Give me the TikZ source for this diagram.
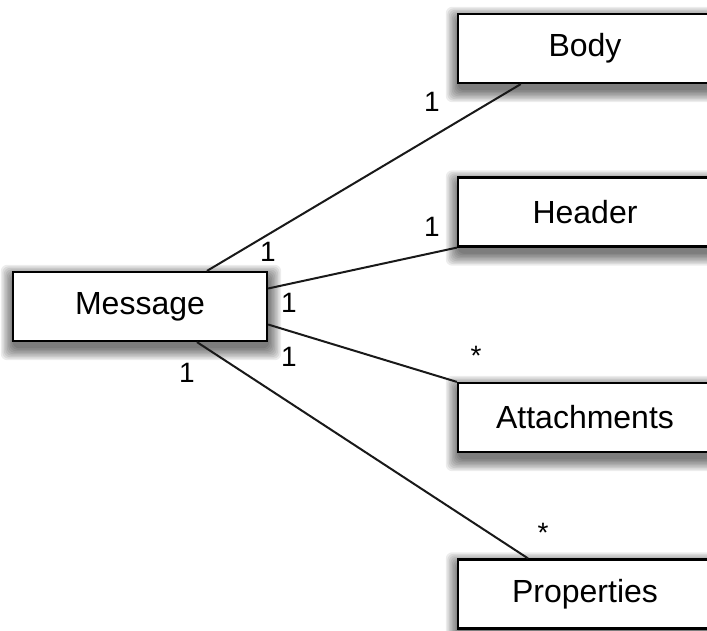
\documentclass[tikz,border=0pt]{standalone}
\usepackage{fontspec}
\setmainfont{Liberation Sans}
\usetikzlibrary{calc}
\pgfdeclarelayer{background}
\pgfsetlayers{background,main}
\begin{document}
\begin{tikzpicture}[x=0.5pt,y=-0.5pt,
  cls/.style={draw=black, line width=1.1pt, fill=white, minimum width=127pt, minimum height=34.5pt,
    inner sep=0pt, font=\fontsize{16}{18}\selectfont},
  shadowlayer/.style={fill=black, fill opacity=0.075, rounded corners=3pt},
  assoc/.style={line width=1pt, draw=black!90},
  mult/.style={font=\fontsize{14}{16}\selectfont, inner sep=0pt}]
\useasboundingbox (0,0) rectangle (707,631);
\clip (0,0) rectangle (707,631);
\node[cls] (msg) at (140,306.5) {Message};
\node[cls] (body) at (585,48.5) {Body};
\node[cls] (header) at (585,212) {Header};
\node[cls] (att) at (585,417.5) {Attachments};
\node[cls] (props) at (585,594) {Properties};
\begin{pgfonlayer}{background}
\fill[white] (0,0) rectangle (707,631);
\foreach \n in {msg,body,header,att,props}{
  \foreach \e in {0,1.5,...,12}{
    \fill[shadowlayer] ($(\n.north west)+(1-\e,6-\e)$) rectangle ($(\n.south east)+(1+\e,6+\e)$);
  }
}
\end{pgfonlayer}
\draw[assoc] (msg.28.7) -- (body.209.1);
\draw[assoc] (msg.8.7) -- (header.south west);
\draw[assoc] (msg.-8.2) -- (att.north west);
\draw[assoc] (msg.-32.1) -- (props.148.3);
\node[mult] (m1) at (432,102) {1};
\node[mult] (m2) at (268,252) {1};
\node[mult] (m3) at (432,227) {1};
\node[mult] (m4) at (289,303) {1};
\node[mult] (m5) at (289,357) {1};
\node[mult] (m6) at (187,373) {1};
\node[mult] (s1) at (476,356) {*};
\node[mult] (s2) at (543,533) {*};
\end{tikzpicture}
\end{document}
